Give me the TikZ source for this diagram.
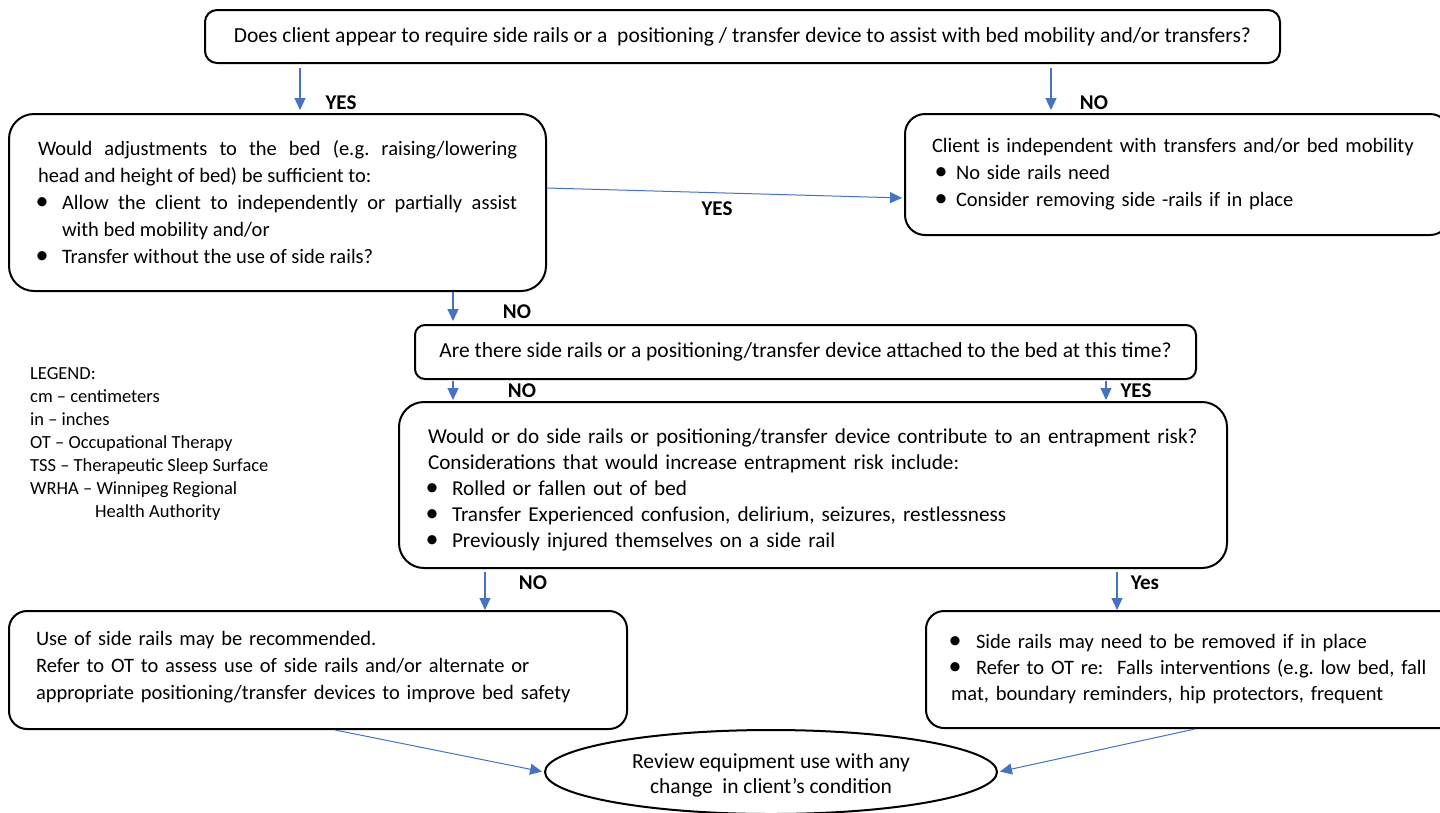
\documentclass[tikz,border=0pt]{standalone}
\usepackage{fontspec}
\setmainfont{Carlito}
\usetikzlibrary{arrows.meta,shapes.geometric,calc}
\definecolor{arrblue}{HTML}{4472C4}
\newcommand{\bdot}{{\fontsize{26}{0}\selectfont\textbullet}}
\newcommand{\blt}[2]{\par\noindent\hangindent=#2\hangafter=1\makebox[#2][l]{\hspace{#1}\bdot}}
\frenchspacing
\tikzset{
  box/.style={draw=black, line width=2pt, rounded corners=#1, font=\fontsize{20.5}{27}\selectfont},
  arr/.style={draw=arrblue, line width=1.2pt, -{Triangle[width=11pt,length=12pt]}},
  lbl/.style={font=\bfseries\fontsize{21}{24}\selectfont, inner sep=0pt},
  legend/.style={font=\fontsize{18.5}{23}\selectfont, align=left, inner sep=0pt}
}
\begin{document}
\begin{tikzpicture}[x=1pt,y=-1pt]
\useasboundingbox (0,0) rectangle (1440,812);
\clip (0,0) rectangle (1440,812);

\node[box=12, minimum width=1075pt, minimum height=53pt, inner sep=0pt, font=\fontsize{21.5}{27}\selectfont] (b1) at (742.5,36.5)
  {Does client appear to require side rails or a\ \ positioning / transfer device to assist with bed mobility and/or transfers?};

\node[box=25, text width=479pt, inner xsep=29pt, inner ysep=0pt, minimum height=177pt, align=justify, anchor=north west] (b2) at (8,113)
  {Would adjustments to the bed (e.g. raising/lowering\linebreak head and height of bed) be sufficient to:
   \blt{-2.5pt}{24pt}Allow the client to independently or partially assist\linebreak with bed mobility and/or
   \blt{-2.5pt}{24pt}Transfer without the use of side rails?\par};

\node[box=20, text width=491pt, inner xsep=27pt, inner ysep=0pt, minimum height=121pt, align=left, anchor=north west] (b3) at (904,113)
  {Client is independent with transfers and/or bed mobility
   \blt{2.5pt}{24pt}No side rails need
   \blt{2.5pt}{24pt}Consider removing side -rails if in place\par};

\node[box=10, minimum width=781pt, minimum height=54pt, inner sep=0pt, font=\fontsize{21.5}{27}\selectfont] (b4) at (805.5,352)
  {Are there side rails or a positioning/transfer device attached to the bed at this time?};

\node[box=25, text width=770pt, inner xsep=29pt, inner ysep=0pt, minimum height=166pt, align=left, anchor=north west, font=\fontsize{21.2}{26}\selectfont] (b5) at (398,401)
  {\rule{0pt}{25pt}Would or do side rails or positioning/transfer device contribute to an entrapment risk?\\
   Considerations that would increase entrapment risk include:
   \blt{-2.5pt}{24pt}Rolled or fallen out of bed
   \blt{-2.5pt}{24pt}Transfer Experienced confusion, delirium, seizures, restlessness
   \blt{-2.5pt}{24pt}Previously injured themselves on a side rail\par};

\node[box=18, text width=564pt, inner xsep=27pt, inner ysep=0pt, minimum height=118pt, align=left, anchor=north west] (b6) at (8,610)
  {Use of side rails may be recommended.\\
   Refer to OT to assess use of side rails and/or alternate or\\
   appropriate positioning/transfer devices to improve bed safety\rule[-10pt]{0pt}{0pt}};

\node[box=18, text width=490pt, inner xsep=25pt, inner ysep=0pt, minimum height=117pt, align=left, anchor=north west, font=\fontsize{20.5}{26}\selectfont] (b7) at (925,610)
  {\blt{-2.5pt}{25pt}Side rails may need to be removed if in place
   \blt{-2.5pt}{25pt}Refer to OT re:\ \ Falls interventions (e.g. low bed, fall\\
   mat, boundary reminders, hip protectors, frequent\rule[-16pt]{0pt}{0pt}\par};

\node[ellipse, draw=black, line width=2pt, minimum width=452pt, minimum height=84pt, inner sep=0pt, align=center, font=\fontsize{21.5}{25}\selectfont] (e) at (771,772)
  {\rule{0pt}{22pt}Review equipment use with any\\ change\ \ in client’s condition};

\node[legend, anchor=north west] (leg) at (30,367)
  {LEGEND:\\ cm – centimeters\\ in – inches\\ OT – Occupational Therapy\\ TSS – Therapeutic Sleep Surface\\ WRHA – Winnipeg Regional\\ \hspace*{65pt}Health Authority};

\coordinate (xa) at (300,0);
\coordinate (xb) at (1051,0);
\coordinate (xc) at (453,0);
\coordinate (xd) at (1106,0);
\coordinate (xe) at (485,0);
\coordinate (xf) at (1117,0);
\coordinate (xg) at (335,0);
\coordinate (xh) at (1195,0);

\draw[arr, shorten <=4pt, shorten >=3pt] (b1.south -| xa) -- (b2.north -| xa);
\draw[arr, shorten <=4pt, shorten >=3pt] (b1.south -| xb) -- (b3.north -| xb);
\draw[arr, line width=1pt, shorten >=2pt] ([yshift=14.5pt]b2.east) -- ([yshift=-23.5pt]b3.west);
\draw[arr, shorten >=3pt] (b2.south -| xc) -- (b4.north -| xc);
\draw[arr, shorten <=1pt, shorten >=1pt] (b4.south -| xc) -- (b5.north -| xc);
\draw[arr, shorten <=1pt, shorten >=1pt] (b4.south -| xd) -- (b5.north -| xd);
\draw[arr, shorten <=3pt] (b5.south -| xe) -- (b6.north -| xe);
\draw[arr, shorten <=3pt] (b5.south -| xf) -- (b7.north -| xf);
\draw[arr, line width=1pt, shorten >=2pt] (b6.south -| xg) -- (e.west);
\draw[arr, line width=1pt, shorten >=2pt] (b7.south -| xh) -- (e.east);

\node[lbl] (l1) at (341,103) {YES};
\node[lbl] (l2) at (1094,103) {NO};
\node[lbl] (l3) at (717,209) {YES};
\node[lbl] (l4) at (517,312) {NO};
\node[lbl] (l5) at (522,391) {NO};
\node[lbl] (l6) at (1136,391) {YES};
\node[lbl] (l7) at (533,583) {NO};
\node[lbl] (l8) at (1145,583) {Yes};
\end{tikzpicture}
\end{document}
